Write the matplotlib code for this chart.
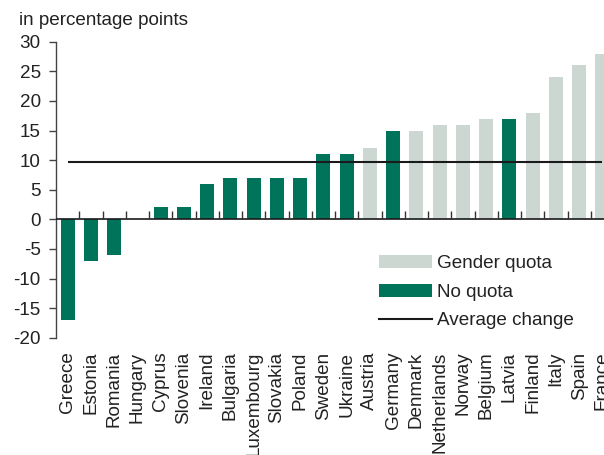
import matplotlib
matplotlib.use("Agg")
import matplotlib.pyplot as plt
import numpy as np
from matplotlib.patches import Patch
from matplotlib.lines import Line2D

plt.rcParams['font.family'] = ['Liberation Sans', 'DejaVu Sans']

countries = ["Greece", "Estonia", "Romania", "Hungary", "Cyprus", "Slovenia", "Ireland",
             "Bulgaria", "Luxembourg", "Slovakia", "Poland", "Sweden", "Ukraine", "Austria",
             "Germany", "Denmark", "Netherlands", "Norway", "Belgium", "Latvia", "Finland",
             "Italy", "Spain", "France"]
values = [-17, -7, -6, 0, 2, 2, 6, 7, 7, 7, 7, 11, 11, 12, 15, 15, 16, 16, 17, 17, 18, 24, 26, 28]
gender_quota = [False, False, False, False, False, False, False, False, False, False, False,
                False, False, True, False, True, True, True, True, False, True, True, True, True]
average_change = 9.7
yticks = [-20, -15, -10, -5, 0, 5, 10, 15, 20, 25, 30]

GREEN = "#00735B"
GRAY = "#CCD7D2"
TXT = "#222222"
FS = 13.6

fig = plt.figure(figsize=(6.04, 4.55), dpi=100)
ax = fig.add_axes([56/604, (455-337.7)/455, 558/604, (337.7-41.7)/455])

x = np.arange(len(countries))
colors = [GRAY if g else GREEN for g in gender_quota]
ax.bar(x, values, width=0.6, color=colors, zorder=2)

ax.set_xlim(-0.5, len(countries) - 0.5)
ax.set_ylim(-20, 30)

# zero line and boundary ticks
ax.axhline(0, color="#1a1a1a", lw=1.2, zorder=3)
ax.vlines(x[1:] - 0.5, 0, 1.35, color="#333333", lw=1.0, zorder=3)

# average line
ax.hlines(average_change, x[0], x[-1], color="#1a1a1a", lw=1.5, zorder=4)

for s in ["top", "right", "bottom"]:
    ax.spines[s].set_visible(False)
ax.spines["left"].set_color("#444444")
ax.spines["left"].set_linewidth(1.0)

ax.set_yticks(yticks)
ax.set_yticklabels([str(v) for v in yticks])
ax.tick_params(axis="y", length=5, width=1.0, color="#444444", pad=6,
               labelsize=FS, labelcolor=TXT)
ax.set_xticks(x)
ax.set_xticklabels(countries, rotation=90, va="top", ha="center")
ax.tick_params(axis="x", length=0, pad=10, labelsize=FS, labelcolor=TXT)

fig.text(19/604, 1 - 20.5/455, "in percentage points", fontsize=FS, color=TXT,
         ha="left", va="center")

handles = [Patch(facecolor=GRAY, edgecolor="none"),
           Patch(facecolor=GREEN, edgecolor="none"),
           Line2D([0], [0], color="#1a1a1a", lw=1.5)]
labels = ["Gender quota", "No quota", "Average change"]
leg = fig.legend(handles, labels, loc="upper left",
                 bbox_to_anchor=(379/604, 1 - 255/455), bbox_transform=fig.transFigure,
                 frameon=False, fontsize=FS, borderpad=0, borderaxespad=0,
                 handlelength=2.8, handleheight=0.7, handletextpad=0.25,
                 labelspacing=0.6)
for t in leg.get_texts():
    t.set_color(TXT)

fig.savefig("out.png", dpi=100)
